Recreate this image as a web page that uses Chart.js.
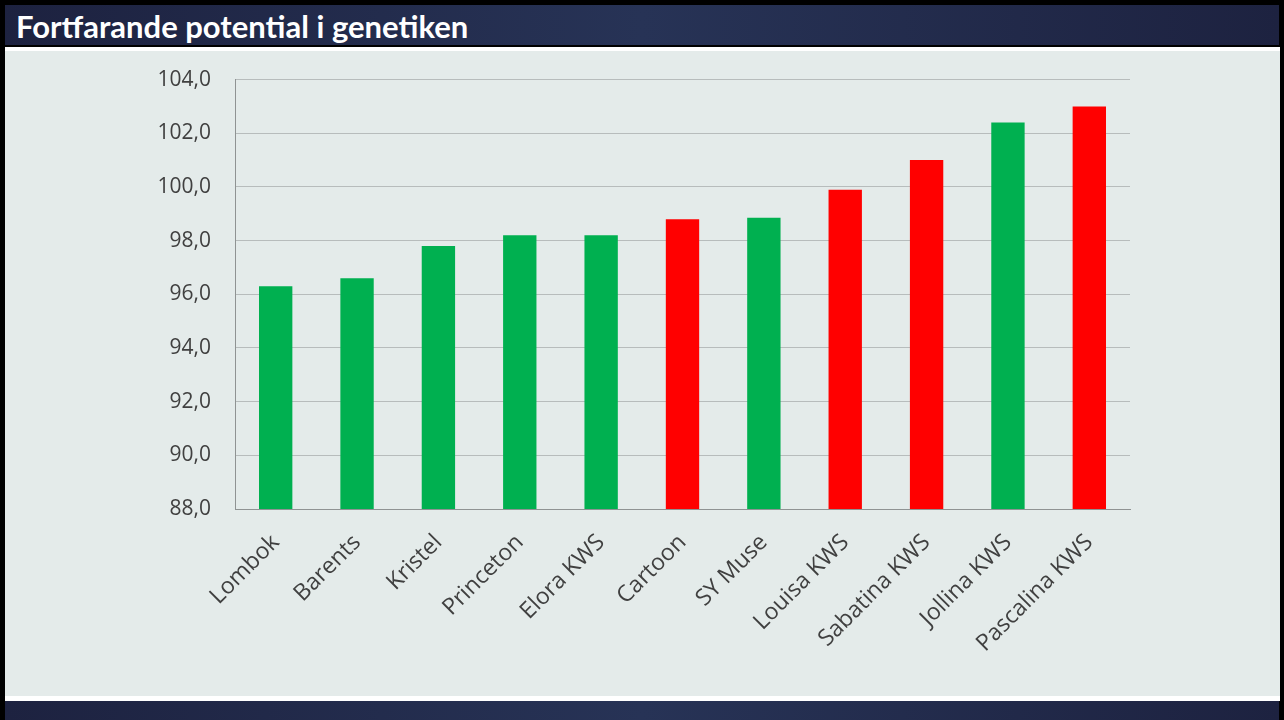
<!DOCTYPE html>
<html>
<head>
<meta charset="utf-8">
<script src="https://cdn.jsdelivr.net/npm/chart.js@4.4.0/dist/chart.umd.min.js"></script>
<style>
  html, body { margin: 0; padding: 0; }
  body { width: 1284px; height: 720px; background: #000; position: relative; overflow: hidden; }
  .titlebar {
    position: absolute; left: 5px; top: 5px; width: 1274px; height: 40px;
    background: linear-gradient(to right, #1d2240, #273356 50%, #1d2240);
  }
  .titlebar h1 {
    margin: 0; padding-left: 11px; color: #fff; font-family: Lato, "Open Sans", sans-serif;
    font-weight: bold; font-size: 31px; line-height: 42px;
  }
  .whiteline { position: absolute; left: 5px; top: 47px; width: 1275px; height: 4px; background: #fff; }
  .panel { position: absolute; left: 5px; top: 51px; width: 1275px; height: 645px; background: #e4ebea; }
  .whitebottom { position: absolute; left: 5px; top: 696px; width: 1275px; height: 5px; background: #fff; }
  .footer {
    position: absolute; left: 5px; top: 701px; width: 1274px; height: 19px;
    background: linear-gradient(to right, #1d2240, #273356 50%, #1d2240);
  }
  #chart-wrap { position: absolute; left: 0; top: 43px; width: 1284px; height: 652px; }
</style>
</head>
<body>
<div class="titlebar"><h1>Fortfarande potential i genetiken</h1></div>
<div class="whiteline"></div>
<div class="panel"></div>
<div class="whitebottom"></div>
<div class="footer"></div>
<div id="chart-wrap"><canvas id="genetics-chart" width="1284" height="652"></canvas></div>
<script>
const varieties = ['Lombok', 'Barents', 'Kristel', 'Princeton', 'Elora KWS', 'Cartoon',
  'SY Muse', 'Louisa KWS', 'Sabatina KWS', 'Jollina KWS', 'Pascalina KWS'];
const potential = [96.3, 96.6, 97.8, 98.2, 98.2, 98.8, 98.85, 99.9, 101.0, 102.4, 103.0];
const isKws = [false, false, false, false, false, true, false, true, true, false, true];
const yTicks = [88, 90, 92, 94, 96, 98, 100, 102, 104];

const green = '#00b050';
const red = '#ff0000';

const ctx = document.getElementById('genetics-chart').getContext('2d');
new Chart(ctx, {
  type: 'bar',
  data: {
    labels: varieties,
    datasets: [{
      label: 'potential',
      data: potential,
      backgroundColor: isKws.map(k => k ? red : green),
      borderWidth: 0,
      barPercentage: 0.41,
      categoryPercentage: 1
    }]
  },
  options: {
    responsive: false,
    animation: false,
    layout: { padding: { left: 0, top: 18, right: 154, bottom: 0 } },
    plugins: { legend: { display: false }, tooltip: { enabled: false } },
    scales: {
      y: {
        min: 88,
        max: 104,
        afterBuildTicks: s => { s.ticks = yTicks.map(v => ({ value: v })); },
        afterFit: s => { s.width = 235; },
        border: { display: true, color: '#8f9393', width: 1 },
        grid: { color: '#b7bcbc', lineWidth: 1, drawTicks: false },
        ticks: {
          padding: 24,
          color: '#404040',
          font: { family: 'Open Sans', size: 21 },
          callback: v => v.toFixed(1).replace('.', ',')
        }
      },
      x: {
        afterFit: s => { s.height = 186; },
        border: { display: true, color: '#8f9393', width: 1 },
        grid: { display: false, drawTicks: false },
        ticks: {
          padding: 20,
          minRotation: 45,
          maxRotation: 45,
          color: '#404040',
          font: { family: 'Open Sans', size: 23 }
        }
      }
    }
  }
});
</script>
</body>
</html>
